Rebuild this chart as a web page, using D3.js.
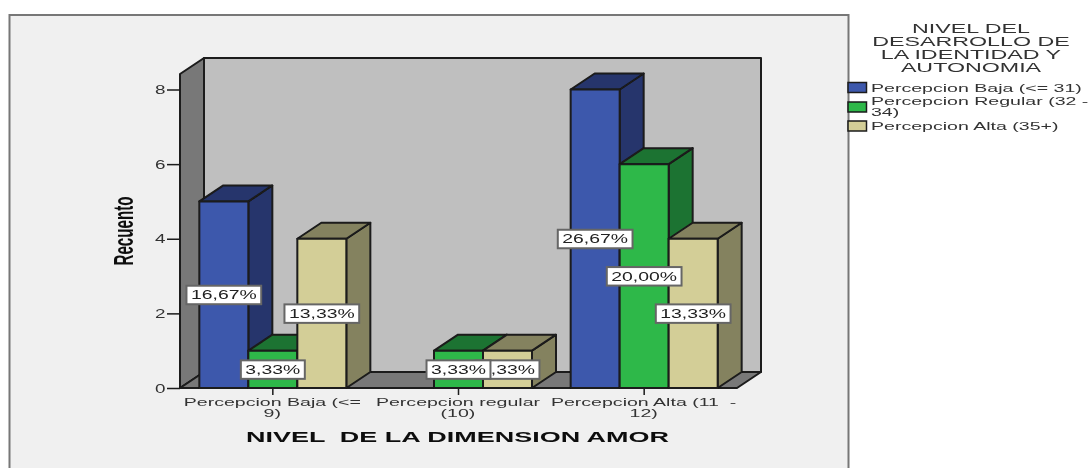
<!DOCTYPE html>
<html><head><meta charset="utf-8">
<script src="https://cdn.jsdelivr.net/npm/d3@7"></script>
<style>html,body{margin:0;padding:0;background:#fff}svg{display:block}text{font-family:"Liberation Sans",Arial,sans-serif}</style>
</head><body><svg id="c" width="1089" height="468"></svg>
<script>
const categoryLines = [["Percepcion Baja (<=","9)"],["Percepcion regular","(10)"],["Percepcion Alta (11  -","12)"]];
const categories = ["Baja","Regular","Alta"];
const seriesNames = ["Percepcion Baja (<= 31)","Percepcion Regular (32 - 34)","Percepcion Alta (35+)"];
const legendLines = [["Percepcion Baja (<= 31)"],["Percepcion Regular (32 -","34)"],["Percepcion Alta (35+)"]];
const legendTitle = ["NIVEL DEL","DESARROLLO DE","LA IDENTIDAD Y","AUTONOMIA"];
const valuesBaja = [5,null,8];
const valuesRegular = [1,1,6];
const valuesAlta = [4,1,4];
const pctBaja = ["16,67%",null,"26,67%"];
const pctRegular = ["3,33%","3,33%","20,00%"];
const pctAlta = ["13,33%","3,33%","13,33%"];
const yTicks = [0,2,4,6,8];
const yTitle = "Recuento";
const xTitle = "NIVEL  DE LA DIMENSION AMOR";
const fills = ["#3e58ac","#2eb848","#d3ce97"];
const darks = ["#25356c","#1f7330","#84825f"];

const values=[valuesBaja,valuesRegular,valuesAlta], pcts=[pctBaja,pctRegular,pctAlta];
const svg=d3.select("#c");
const defs=svg.append("defs");
defs.append("filter").attr("id","soft").attr("x","-5%").attr("y","-5%").attr("width","110%").attr("height","110%")
  .append("feGaussianBlur").attr("stdDeviation",0.45);
const root=svg.append("g").attr("filter","url(#soft)");
// frame
root.append("rect").attr("x",9.5).attr("y",15).attr("width",839).attr("height",470)
  .attr("fill","#f0f0f0").attr("stroke","#777").attr("stroke-width",2);

const L=180,R=737,B=388,dx=24,dy=-16,barW=49;
const y=d3.scaleLinear().domain([0,8]).range([B,89.5]);
const x0=d3.scaleBand().domain(categories).range([L,R]);
const xS=d3.scaleBand().domain([0,1,2]).range([-1.5*barW,1.5*barW]);
const wallTop=74;
const ink="#1a1a1a";
const poly=(pts,fill,sw=2)=>root.append("polygon").attr("points",pts.map(p=>p.join(",")).join(" "))
  .attr("fill",fill).attr("stroke",ink).attr("stroke-width",sw).attr("stroke-linejoin","round");
// walls
poly([[L+dx,wallTop+dy],[R+dx,wallTop+dy],[R+dx,B+dy],[L+dx,B+dy]],"#bfbfbf");
poly([[L,wallTop],[L+dx,wallTop+dy],[L+dx,B+dy],[L,B]],"#787878");
poly([[L,B],[L+dx,B+dy],[R+dx,B+dy],[R,B]],"#787878");

function fit(sel,k){sel.each(function(){const t=this;const w=t.getComputedTextLength();t.setAttribute("textLength",w*k);t.setAttribute("lengthAdjust","spacingAndGlyphs");});return sel;}

// y axis
const ay=root.append("g").attr("transform",`translate(${L},0)`).call(d3.axisLeft(y).tickValues(yTicks).tickSize(13).tickPadding(1.5).tickFormat(d3.format("d")));
ay.select(".domain").remove();
ay.selectAll("line").attr("stroke",ink).attr("stroke-width",1.5);
ay.selectAll("text").attr("font-size",13).attr("fill","#333").attr("font-family","Liberation Sans").call(s=>fit(s,1.45));
// x ticks
const ax=root.append("g").attr("transform",`translate(0,${B})`).call(d3.axisBottom(x0).tickSize(7).tickFormat(""));
ax.select(".domain").remove();
ax.selectAll("line").attr("stroke",ink).attr("stroke-width",1.5);

const bars=[];
categories.forEach((c,i)=>{
  const cx=x0(c)+x0.bandwidth()/2;
  values.forEach((vals,s)=>{
    if(vals[i]!=null) bars.push({i,s,v:vals[i],p:pcts[s][i],x:cx+xS(s)});
  });
});
// bars, in series order within each group
bars.forEach(b=>{
  const yt=y(b.v),xl=b.x,xr=b.x+barW;
  poly([[xr,yt],[xr+dx,yt+dy],[xr+dx,B+dy],[xr,B]],darks[b.s]);
  poly([[xl,yt],[xl+dx,yt+dy],[xr+dx,yt+dy],[xr,yt]],darks[b.s]);
  poly([[xl,yt],[xr,yt],[xr,B],[xl,B]],fills[b.s]);
});
// data labels: later series first so that the earlier label stays on top
bars.slice().sort((a,b)=>a.i-b.i||b.s-a.s).forEach(b=>{
  const cx=b.x+barW/2,cy=y(b.v/2);
  const g=root.append("g");
  const r=g.append("rect").attr("y",cy-9).attr("height",18.5).attr("fill","#fff").attr("stroke","#666").attr("stroke-width",2);
  const t=g.append("text").attr("x",cx).attr("y",cy+4.5).attr("text-anchor","middle").attr("font-size",12.5).attr("fill","#222").text(b.p);
  fit(t,1.55);
  const w=+t.attr("textLength")+9;
  r.attr("x",cx-w/2).attr("width",w);
});
// category labels
categoryLines.forEach((ls,i)=>{
  const cx=x0(categories[i])+x0.bandwidth()/2;
  ls.forEach((l,j)=>{
    const t=root.append("text").attr("x",cx-0.5).attr("y",406+j*11).attr("text-anchor","middle").attr("font-size",11.5).attr("fill","#333").style("white-space","pre").text(l);
    fit(t,1.7);
  });
});
// titles
fit(root.append("text").attr("x",457.5).attr("y",442).attr("text-anchor","middle").attr("font-size",15.5).attr("font-weight","bold").attr("fill","#111").style("white-space","pre").text(xTitle),1.74);
root.append("text").attr("transform","translate(133,231) rotate(-90)").attr("text-anchor","middle").attr("font-size",27).attr("font-weight","bold").attr("fill","#111").attr("textLength",69).attr("lengthAdjust","spacingAndGlyphs").text(yTitle);
// legend
legendTitle.forEach((l,j)=>{
  fit(root.append("text").attr("x",971).attr("y",32.5+j*13.1).attr("text-anchor","middle").attr("font-size",13.5).attr("fill","#333").text(l),1.72);
});
const swY=[82.5,102,121], txtY=[[92],[105,116],[130]];
seriesNames.forEach((n,s)=>{
  root.append("rect").attr("x",848).attr("y",swY[s]).attr("width",18.5).attr("height",10).attr("fill",fills[s]).attr("stroke",ink).attr("stroke-width",1.5);
  legendLines[s].forEach((l,j)=>{
    fit(root.append("text").attr("x",871).attr("y",txtY[s][j]).attr("font-size",11.5).attr("fill","#333").text(l),1.7);
  });
});
</script></body></html>
